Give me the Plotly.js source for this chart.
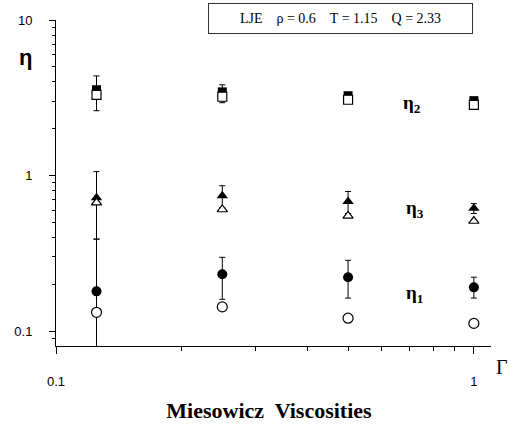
<!DOCTYPE html>
<html>
<head>
<meta charset="utf-8">
<script src="https://cdn.plot.ly/plotly-3.0.1.min.js"></script>
<style>html,body{margin:0;padding:0;background:#fff;}#chart{width:513px;height:429px;}</style>
</head>
<body>
<div id="chart"></div>
<script>
// Data
var gamma = [0.125, 0.25, 0.5, 1.0];

var eta2Filled = [3.56, 3.45, 3.26, 3.03];
var eta2FilledErrPlus = [0.81, 0.38, 0.10, 0.08];
var eta2FilledErrMinus = [0.95, 0.51, 0.10, 0.08];
var eta2Open = [3.30, 3.21, 3.07, 2.85];

var eta3Filled = [0.72, 0.74, 0.68, 0.615];
var eta3FilledErrPlus = [0.34, 0.12, 0.11, 0.045];
var eta3FilledErrMinus = [0.33, 0.12, 0.11, 0.045];
var eta3Open = [0.67, 0.605, 0.55, 0.51];

var eta1Filled = [0.18, 0.232, 0.222, 0.191];
var eta1FilledErrPlus = [0.21, 0.066, 0.063, 0.031];
var eta1FilledErrMinus = [0.179, 0.072, 0.059, 0.028];
var eta1Open = [0.132, 0.143, 0.121, 0.112];

var xMajorTicks = [0.1, 1];
var xMajorText = ['0.1', '1'];
var yMajorTicks = [0.1, 1, 10];
var yMajorText = ['0.1', '1', '10'];
var xMinorTicks = [0.2, 0.3, 0.4, 0.5, 0.6, 0.7, 0.8, 0.9];
var yMinorTicks = [0.09, 0.2, 0.3, 0.4, 0.5, 0.6, 0.7, 0.8, 0.9, 2, 3, 4, 5, 6, 7, 8, 9];

function errBar(plus, minus) {
  return {type: 'data', symmetric: false, array: plus, arrayminus: minus,
          color: '#000', thickness: 1, width: 3, visible: true};
}
function filled(y, sym, size, plus, minus) {
  return {x: gamma, y: y, type: 'scatter', mode: 'markers',
          marker: {symbol: sym, size: size, color: '#000', line: {color: '#000', width: 0}},
          error_y: errBar(plus, minus), showlegend: false, hoverinfo: 'none'};
}
function open(y, sym, size) {
  return {x: gamma, y: y, type: 'scatter', mode: 'markers',
          marker: {symbol: sym, size: size, color: '#fff', line: {color: '#000', width: 1.2}},
          showlegend: false, hoverinfo: 'none'};
}

var traces = [
  {x: [], y: [], xaxis: 'x2', yaxis: 'y2', type: 'scatter', mode: 'markers', showlegend: false, hoverinfo: 'none'},
  filled(eta2Filled, 'square', 9, eta2FilledErrPlus, eta2FilledErrMinus),
  open(eta2Open, 'square', 9),
  filled(eta3Filled, 'triangle-up', 10, eta3FilledErrPlus, eta3FilledErrMinus),
  open(eta3Open, 'triangle-up', 9),
  filled(eta1Filled, 'circle', 10, eta1FilledErrPlus, eta1FilledErrMinus),
  open(eta1Open, 'circle', 10)
];

var serif = 'Liberation Serif, Times New Roman, serif';
var sans = 'Liberation Sans, Arial, sans-serif';
var xRange = [-1, 0.041];
var yRange = [-1.096, 1.0];

var layout = {
  width: 513, height: 429,
  margin: {l: 56, r: 22, t: 20, b: 83},
  paper_bgcolor: '#fff', plot_bgcolor: '#fff',
  showlegend: false,
  title: {text: '<b>Miesowicz  Viscosities</b>', x: 269/513, y: 1 - 410/429,
          xanchor: 'center', yanchor: 'middle', xref: 'container', yref: 'container',
          font: {family: serif, size: 22, color: '#000'}},
  xaxis: {type: 'log', range: xRange, showgrid: false, zeroline: false,
          showline: true, linecolor: '#000', linewidth: 1,
          tickvals: xMajorTicks, ticktext: xMajorText,
          ticks: 'outside', ticklen: 7, tickcolor: '#000', tickwidth: 1,
          ticklabelstandoff: 16,
          tickfont: {family: sans, size: 13, color: '#000'}},
  yaxis: {type: 'log', range: yRange, showgrid: false, zeroline: false,
          showline: true, linecolor: '#000', linewidth: 1,
          tickvals: yMajorTicks, ticktext: yMajorText,
          ticks: 'outside', ticklen: 6, tickcolor: '#000', tickwidth: 1,
          ticklabelstandoff: 14,
          tickfont: {family: sans, size: 13, color: '#000'}},
  xaxis2: {type: 'log', range: xRange, overlaying: 'x', anchor: 'y2', side: 'bottom',
           showgrid: false, zeroline: false, showline: false, showticklabels: false,
           tickvals: xMinorTicks, ticks: 'outside', ticklen: 4, tickcolor: '#000', tickwidth: 1},
  yaxis2: {type: 'log', range: yRange, overlaying: 'y', anchor: 'x2', side: 'left',
           showgrid: false, zeroline: false, showline: false, showticklabels: false,
           tickvals: yMinorTicks, ticks: 'outside', ticklen: 3, tickcolor: '#000', tickwidth: 1},
  annotations: [
    {text: 'LJE    ρ = 0.6    T = 1.15    Q = 2.33', xref: 'paper', yref: 'paper',
     x: (340-56)/435, y: (346-18.5)/326, xanchor: 'center', yanchor: 'middle',
     showarrow: false, font: {family: serif, size: 14, color: '#000'},
     bordercolor: '#333', borderwidth: 1, borderpad: 0, width: 263, height: 29, bgcolor: '#fff'},
    {text: '<b>η</b>', xref: 'paper', yref: 'paper', x: (25-56)/435, y: (346-57)/326,
     xanchor: 'center', yanchor: 'middle', showarrow: false,
     font: {family: sans, size: 22, color: '#000'}},
    {text: 'Γ', xref: 'paper', yref: 'paper', x: (502-56)/435, y: (346-367)/326,
     xanchor: 'center', yanchor: 'middle', showarrow: false,
     font: {family: serif, size: 20, color: '#000'}},
    {text: '<b>η<sub>2</sub></b>', xref: 'paper', yref: 'paper', x: (412-56)/435, y: (346-104)/326,
     xanchor: 'center', yanchor: 'middle', showarrow: false,
     font: {family: serif, size: 19, color: '#000'}},
    {text: '<b>η<sub>3</sub></b>', xref: 'paper', yref: 'paper', x: (415-56)/435, y: (346-209)/326,
     xanchor: 'center', yanchor: 'middle', showarrow: false,
     font: {family: serif, size: 19, color: '#000'}},
    {text: '<b>η<sub>1</sub></b>', xref: 'paper', yref: 'paper', x: (414-56)/435, y: (346-294)/326,
     xanchor: 'center', yanchor: 'middle', showarrow: false,
     font: {family: serif, size: 19, color: '#000'}}
  ]
};

Plotly.newPlot('chart', traces, layout, {displayModeBar: false, staticPlot: true});
</script>
</body>
</html>
